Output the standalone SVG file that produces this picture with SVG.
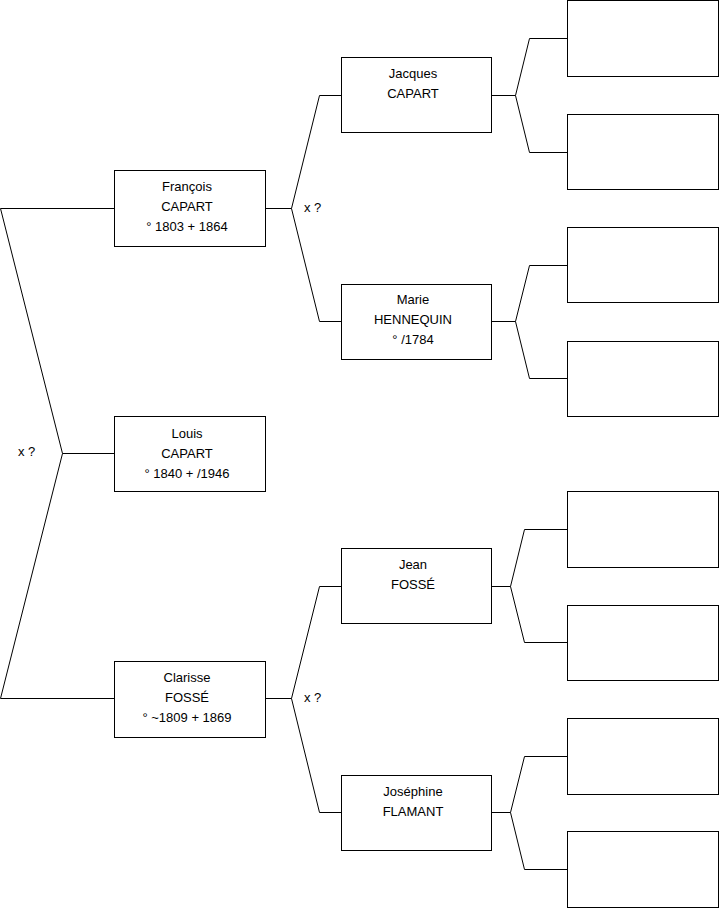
<svg xmlns="http://www.w3.org/2000/svg" width="719" height="908" viewBox="0 0 719 908">
<style>
.box{fill:#fff;stroke:#000;stroke-width:1}
.ln{fill:none;stroke:#000;stroke-width:1}
text{font-family:"Liberation Sans",Arial,sans-serif;font-size:13px;fill:#000}
.c{text-anchor:middle}
</style>
<rect width="719" height="908" fill="#fff"/>
<g id="connectors">
<polyline class="ln" points="114.5,208.5 0.5,208.5 62.5,453.5 0.5,698.5 114.5,698.5"/>
<line class="ln" x1="62.5" y1="453.5" x2="114.5" y2="453.5"/>
<polyline class="ln" points="341.5,95.5 319.5,95.5 291.5,208.5 319.5,321.5 341.5,321.5"/>
<line class="ln" x1="265.5" y1="208.5" x2="291.5" y2="208.5"/>
<polyline class="ln" points="341.5,586.5 319.5,586.5 291.5,698.5 319.5,812.5 341.5,812.5"/>
<line class="ln" x1="265.5" y1="698.5" x2="291.5" y2="698.5"/>
<polyline class="ln" points="567.5,38.5 529.5,38.5 515.5,95.5 529.5,152.5 567.5,152.5"/>
<line class="ln" x1="491.5" y1="95.5" x2="515.5" y2="95.5"/>
<polyline class="ln" points="567.5,265.5 529.5,265.5 515.5,321.5 529.5,378.5 567.5,378.5"/>
<line class="ln" x1="491.5" y1="321.5" x2="515.5" y2="321.5"/>
<polyline class="ln" points="567.5,529.5 524.5,529.5 510.5,586.5 524.5,642.5 567.5,642.5"/>
<line class="ln" x1="491.5" y1="586.5" x2="510.5" y2="586.5"/>
<polyline class="ln" points="567.5,756.5 524.5,756.5 510.5,812.5 524.5,869.5 567.5,869.5"/>
<line class="ln" x1="491.5" y1="812.5" x2="510.5" y2="812.5"/>
</g>
<g id="label-x1"><text x="304" y="212">x ?</text></g>
<g id="label-x2"><text x="18" y="456">x ?</text></g>
<g id="label-x3"><text x="304" y="702">x ?</text></g>
<g id="francois">
<rect class="box" x="114.5" y="170.5" width="151" height="76"/>
<text class="c" x="187" y="191">François</text>
<text class="c" x="187" y="211">CAPART</text>
<text class="c" x="187" y="231">° 1803 + 1864</text>
</g>
<g id="louis">
<rect class="box" x="114.5" y="416.5" width="151" height="75"/>
<text class="c" x="187" y="438">Louis</text>
<text class="c" x="187" y="458">CAPART</text>
<text class="c" x="187" y="478">° 1840 + /1946</text>
</g>
<g id="clarisse">
<rect class="box" x="114.5" y="661.5" width="151" height="76"/>
<text class="c" x="187" y="682">Clarisse</text>
<text class="c" x="187" y="702">FOSSÉ</text>
<text class="c" x="187" y="722">° ~1809 + 1869</text>
</g>
<g id="jacques">
<rect class="box" x="341.5" y="57.5" width="150" height="75"/>
<text class="c" x="413" y="78">Jacques</text>
<text class="c" x="413" y="98">CAPART</text>
</g>
<g id="marie">
<rect class="box" x="341.5" y="284.5" width="150" height="75"/>
<text class="c" x="413" y="304">Marie</text>
<text class="c" x="413" y="324">HENNEQUIN</text>
<text class="c" x="413" y="344">° /1784</text>
</g>
<g id="jean">
<rect class="box" x="341.5" y="548.5" width="150" height="75"/>
<text class="c" x="413" y="569">Jean</text>
<text class="c" x="413" y="589">FOSSÉ</text>
</g>
<g id="josephine">
<rect class="box" x="341.5" y="775.5" width="150" height="75"/>
<text class="c" x="413" y="796">Joséphine</text>
<text class="c" x="413" y="816">FLAMANT</text>
</g>
<g id="e1"><rect class="box" x="567.5" y="0.5" width="151" height="76"/></g>
<g id="e2"><rect class="box" x="567.5" y="114.5" width="151" height="75"/></g>
<g id="e3"><rect class="box" x="567.5" y="227.5" width="151" height="75"/></g>
<g id="e4"><rect class="box" x="567.5" y="341.5" width="151" height="75"/></g>
<g id="e5"><rect class="box" x="567.5" y="491.5" width="151" height="76"/></g>
<g id="e6"><rect class="box" x="567.5" y="605.5" width="151" height="75"/></g>
<g id="e7"><rect class="box" x="567.5" y="718.5" width="151" height="76"/></g>
<g id="e8"><rect class="box" x="567.5" y="831.5" width="151" height="76"/></g>
</svg>
